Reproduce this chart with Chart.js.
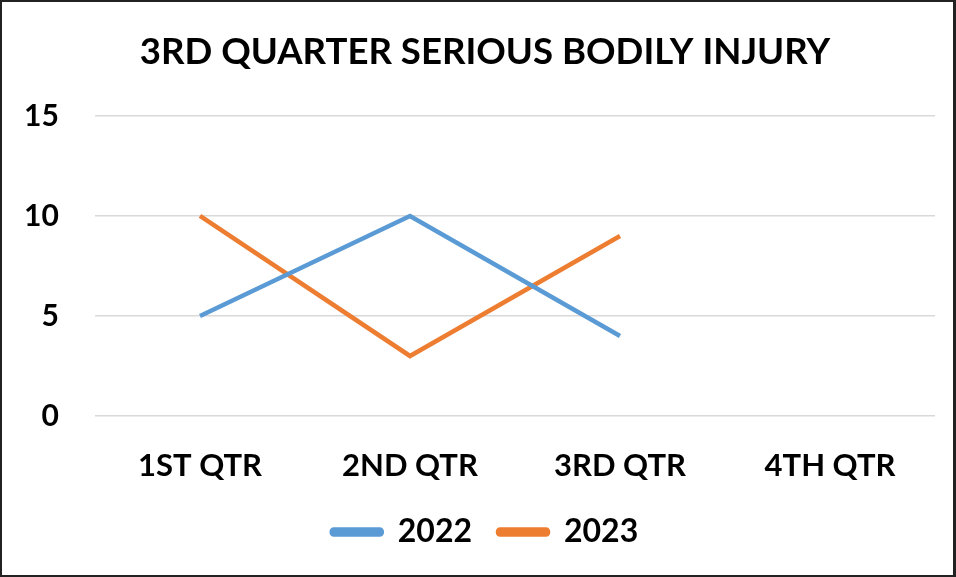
<!DOCTYPE html>
<html>
<head>
<meta charset="utf-8">
<script src="https://cdn.jsdelivr.net/npm/chart.js@4/dist/chart.umd.min.js"></script>
<style>
  html, body { margin: 0; padding: 0; background: #fff; }
  #wrap { width: 956px; height: 577px; box-sizing: border-box; border: 2px solid #222; border-right-width: 3px; }
  canvas { display: block; }
</style>
</head>
<body>
<div id="wrap"><canvas id="grafico" width="951" height="573"></canvas></div>
<script>
// datos del grafico
const trimestres = ['1ST QTR', '2ND QTR', '3RD QTR', '4TH QTR'];
const datos2022 = [5, 10, 4, null];
const datos2023 = [10, 3, 9, null];

const fuente = 'Lato, Carlito, Calibri, sans-serif';

const ctx = document.getElementById('grafico').getContext('2d');
new Chart(ctx, {
  type: 'line',
  data: {
    labels: trimestres,
    datasets: [{
      label: '2022',
      data: datos2022,
      borderColor: '#5B9BD5',
      backgroundColor: '#5B9BD5',
      borderWidth: 4.5,
      pointRadius: 0,
      fill: false
    }, {
      label: '2023',
      data: datos2023,
      borderColor: '#ED7D31',
      backgroundColor: '#ED7D31',
      borderWidth: 4.5,
      pointRadius: 0,
      fill: false
    }]
  },
  options: {
    responsive: false,
    animation: false,
    layout: { padding: { left: 33, right: 18, top: 0, bottom: 17 } },
    plugins: {
      title: {
        display: true,
        text: '3RD QUARTER SERIOUS BODILY INJURY',
        color: '#000',
        font: { family: fuente, size: 36.6, weight: 'bold' },
        padding: { top: 28, bottom: 42 }
      },
      legend: {
        position: 'bottom',
        labels: {
          color: '#000',
          font: { family: fuente, size: 32, weight: 'bold' },
          boxWidth: 50,
          boxHeight: 5,
          useBorderRadius: true,
          borderRadius: 2,
          padding: 26
        }
      },
      tooltip: { enabled: false }
    },
    scales: {
      x: {
        offset: true,
        grid: { display: false, drawTicks: false },
        border: { display: false },
        afterFit: function(s) { s.height = 74; },
        ticks: {
          color: '#000',
          padding: 31,
          font: { family: fuente, size: 31, weight: 'bold' }
        }
      },
      y: {
        min: 0,
        max: 15,
        grid: { color: '#d9d9d9', lineWidth: 1.5, drawTicks: false },
        border: { display: false },
        afterFit: function(s) { s.width = 60; },
        ticks: {
          stepSize: 5,
          color: '#000',
          mirror: true,
          crossAlign: 'far',
          padding: -71,
          font: { family: fuente, size: 30, weight: 'bold' }
        }
      }
    }
  }
});
</script>
</body>
</html>
